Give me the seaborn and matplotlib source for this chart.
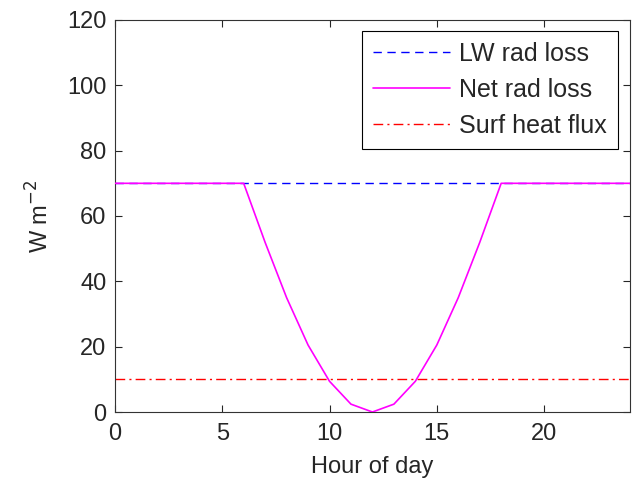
import pandas as pd
import matplotlib
matplotlib.use("Agg")
import matplotlib.pyplot as plt
import seaborn as sns

# timmar och flöden (W m-2)
hour = list(range(25))
lw_rad_loss = [70] * 25
net_rad_loss = [70, 70, 70, 70, 70, 70, 70, 51.9, 35, 20.5, 9.4, 2.4, 0,
                2.4, 9.4, 20.5, 35, 51.9, 70, 70, 70, 70, 70, 70, 70]
surf_heat_flux = [10] * 25

df = pd.DataFrame({"Hour": hour, "LW": lw_rad_loss, "Net": net_rad_loss, "Surf": surf_heat_flux})

sns.set_style("ticks")
plt.rcParams["font.family"] = ["Liberation Sans", "DejaVu Sans"]
plt.rcParams["font.size"] = 17

fig = plt.figure(figsize=(6.35, 4.87), dpi=100)
ax = fig.add_axes([0.181, 0.154, 0.811, 0.805])

sns.lineplot(x="Hour", y="LW", data=df, ax=ax, color="blue", linestyle=(0, (6, 4)), linewidth=1,
             label="LW rad loss", zorder=2)
sns.lineplot(x="Hour", y="Net", data=df, ax=ax, color="magenta", linewidth=1.2,
             label="Net rad loss", zorder=3)
sns.lineplot(x="Hour", y="Surf", data=df, ax=ax, color="red", linestyle=(0, (7, 3, 1.5, 3)), linewidth=1,
             label="Surf heat flux", zorder=2)

ax.set_xlim(0, 24)
ax.set_ylim(0, 120)
ax.set_xticks([0, 5, 10, 15, 20])
ax.set_yticks(range(0, 121, 20))
ax.tick_params(direction="in", top=True, right=True, length=5, labelsize=17, width=0.8)
ax.tick_params(axis="x", pad=8)
ax.tick_params(axis="y", pad=6)
for s in ax.spines.values():
    s.set_linewidth(0.8)
    s.set_color("#333333")

ax.set_xlabel("Hour of day", fontsize=17, labelpad=8)
ax.set_ylabel("W m$^{-2}$", fontsize=17, labelpad=10)

leg = ax.legend(loc="upper right", fontsize=18, handlelength=3.1, handletextpad=0.35, fancybox=False,
                edgecolor="black", framealpha=1, borderpad=0.45, labelspacing=0.47,
                borderaxespad=0, bbox_to_anchor=(0.977, 0.972))
leg.get_frame().set_linewidth(0.8)

fig.savefig("out.png", dpi=100)
